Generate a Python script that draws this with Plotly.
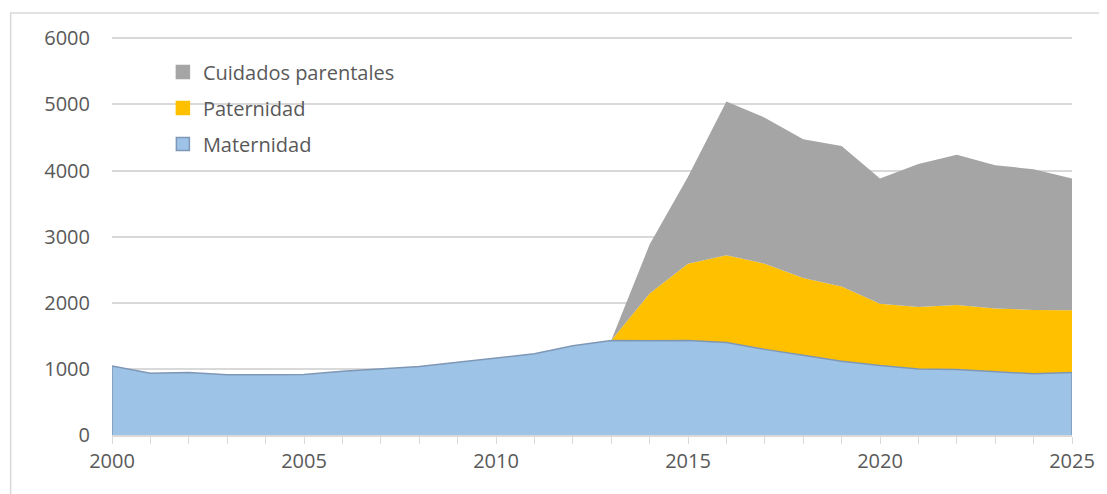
import plotly.graph_objects as go

years = list(range(2000, 2026))
maternidad = [1045, 935, 945, 910, 910, 915, 965, 995, 1035, 1100, 1165, 1230, 1350, 1430,
              1425, 1430, 1400, 1295, 1205, 1115, 1050, 1000, 990, 960, 925, 945]
paternidad = [0, 0, 0, 0, 0, 0, 0, 0, 0, 0, 0, 0, 0, 0,
              715, 1160, 1320, 1295, 1170, 1130, 935, 935, 975, 955, 965, 940]
cuidados = [0, 0, 0, 0, 0, 0, 0, 0, 0, 0, 0, 0, 0, 0,
            740, 1315, 2325, 2210, 2100, 2125, 1895, 2165, 2275, 2165, 2130, 1995]

tick_labels = [str(y) if y % 5 == 0 else "" for y in years]

FONT = "Open Sans"
C_MAT, C_MAT_LINE, C_PAT, C_CUI = "#9dc3e6", "#7f97b6", "#ffc000", "#a5a5a5"

fig = go.Figure()
fig.add_trace(go.Scatter(x=years, y=maternidad, name="Maternidad", stackgroup="one",
                         mode="lines", line=dict(color=C_MAT_LINE, width=1.5),
                         fillcolor=C_MAT, showlegend=False))
fig.add_trace(go.Scatter(x=years, y=paternidad, name="Paternidad", stackgroup="one",
                         mode="lines", line=dict(color=C_PAT, width=0),
                         fillcolor=C_PAT, showlegend=False))
fig.add_trace(go.Scatter(x=years, y=cuidados, name="Cuidados parentales", stackgroup="one",
                         mode="lines", line=dict(color=C_CUI, width=0),
                         fillcolor=C_CUI, showlegend=False))

# legend entries (square swatches)
for name, col, lc, rank in [("Cuidados parentales", C_CUI, C_CUI, 1),
                            ("Paternidad", C_PAT, C_PAT, 2),
                            ("Maternidad", C_MAT, C_MAT_LINE, 3)]:
    fig.add_trace(go.Scatter(x=[None], y=[None], mode="markers", name=name,
                             marker=dict(symbol="square", size=13, color=col,
                                         line=dict(color=lc, width=1.5)),
                             legendgroup=name, legendrank=rank, showlegend=True))

# vertical edges of the Maternidad area
for xi, yi in [(years[0], maternidad[0]), (years[-1], maternidad[-1])]:
    fig.add_shape(type="line", x0=xi, x1=xi, y0=0, y1=yi,
                  line=dict(color=C_MAT_LINE, width=1.5))

PH = 400
fig.update_layout(
    width=1099, height=486,
    margin=dict(l=104, r=29, t=27, b=59),
    paper_bgcolor="white", plot_bgcolor="white",
    font=dict(family=FONT, size=20, color="#595959"),
    showlegend=True,
    legend=dict(x=0.053, y=0.956, xanchor="left", yanchor="top",
                traceorder="grouped", tracegroupgap=7,
                bgcolor="rgba(0,0,0,0)", font=dict(size=20, color="#595959")),
    xaxis=dict(range=[2000, 2025], tickmode="array", tickvals=years, ticktext=tick_labels,
               ticks="outside", ticklen=7, tickcolor="#d9d9d9", showgrid=False,
               showline=True, linecolor="#d9d9d9", linewidth=1.5, zeroline=False,
               tickangle=0),
    yaxis=dict(range=[0, 6050], tickvals=[0, 1000, 2000, 3000, 4000, 5000, 6000],
               showgrid=True, gridcolor="#d9d9d9", gridwidth=1.5, zeroline=False,
               showline=False, ticks="", ticklabelstandoff=21),
)
fig.add_shape(type="rect", xref="paper", yref="paper",
              x0=(2-104)/966, x1=(1120-104)/966, y0=(427-510)/PH, y1=(427-5)/PH,
              line=dict(color="#d9d9d9", width=1.5), layer="below")
fig.write_html("out.html")
